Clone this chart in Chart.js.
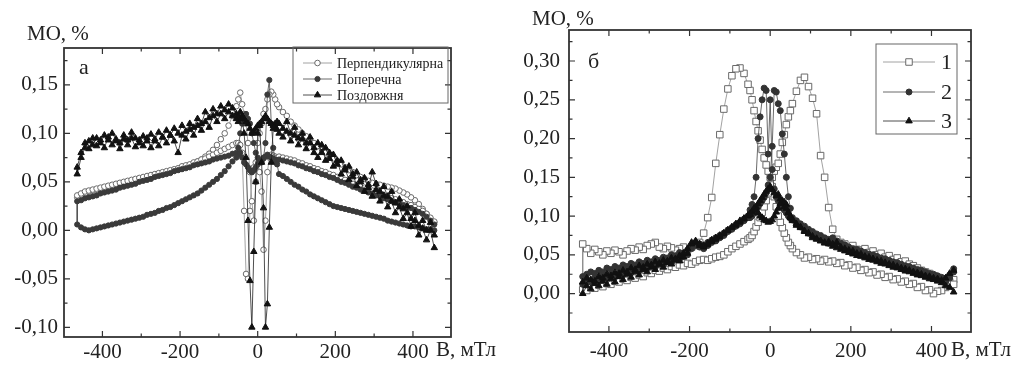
<!DOCTYPE html>
<html>
<head>
<meta charset="utf-8">
<script src="https://cdn.jsdelivr.net/npm/chart.js@4.4.1/dist/chart.umd.min.js"></script>
<style>
  body { margin: 0; background: #fff; width: 1027px; height: 372px; overflow: hidden; position: relative; }
  .panel { position: absolute; top: 0; height: 372px; }
  #panelA { left: 0; width: 520px; }
  #panelB { left: 505px; width: 522px; }
</style>
</head>
<body>
<div class="panel" id="panelA"><canvas id="chartA" width="520" height="372"></canvas></div>
<div class="panel" id="panelB"><canvas id="chartB" width="522" height="372"></canvas></div>
<script>
// field values, mT (shared by both panels)
const field = [
  -465, -455, -445, -435, -425, -415, -405, -395, -385, -375,
  -365, -355, -345, -335, -325, -315, -305, -295, -285, -275,
  -265, -255, -245, -235, -225, -215, -205, -195, -185, -175,
  -165, -155, -145, -135, -125, -115, -105, -95, -85, -75, -65, -55,
  -50, -45, -40, -35, -30, -25, -20, -15, -10, -5, 0, 5, 10, 15, 20, 25, 30, 35, 40, 45, 50,
  55, 65, 75, 85, 95, 105, 115, 125, 135, 145,
  155, 165, 175, 185, 195, 205, 215, 225, 235, 245,
  255, 265, 275, 285, 295, 305, 315, 325, 335, 345,
  355, 365, 375, 385, 395, 405, 415, 425, 435, 445, 455
];

// panel а, MO in %
const perpUp = [
  0.036, 0.038, 0.040, 0.041, 0.042, 0.043, 0.044, 0.045, 0.046, 0.047,
  0.048, 0.049, 0.050, 0.051, 0.052, 0.053, 0.054, 0.055, 0.056, 0.057,
  0.058, 0.059, 0.060, 0.061, 0.062, 0.063, 0.064, 0.066, 0.067, 0.068,
  0.070, 0.071, 0.073, 0.074, 0.076, 0.078, 0.080, 0.082, 0.084, 0.086, 0.088, 0.090,
  0.090, 0.088, 0.080, 0.020, -0.045, -0.050, 0.020, 0.060, 0.065, 0.070, 0.072, 0.060, 0.040, -0.020, 0.010, 0.060, 0.075, 0.078, 0.077, 0.076, 0.075,
  0.076, 0.075, 0.074, 0.073, 0.072, 0.070, 0.069, 0.067, 0.066, 0.064,
  0.063, 0.061, 0.060, 0.058, 0.057, 0.055, 0.053, 0.052, 0.050, 0.048,
  0.047, 0.045, 0.044, 0.042, 0.041, 0.039, 0.038, 0.036, 0.035, 0.033,
  0.032, 0.030, 0.029, 0.027, 0.026, 0.024, 0.022, 0.020, 0.017, 0.013, 0.009
];
const perpDown = [
  0.034, 0.036, 0.038, 0.040, 0.041, 0.042, 0.043, 0.044, 0.045, 0.046,
  0.047, 0.048, 0.049, 0.050, 0.051, 0.052, 0.053, 0.054, 0.055, 0.056,
  0.057, 0.058, 0.059, 0.060, 0.061, 0.062, 0.063, 0.064, 0.066, 0.067,
  0.069, 0.071, 0.073, 0.076, 0.079, 0.083, 0.088, 0.094, 0.100, 0.108, 0.118, 0.128,
  0.135, 0.142, 0.130, 0.120, 0.110, 0.090, 0.060, 0.030, 0.010, 0.050, 0.090, 0.100, 0.110, 0.120, 0.125, 0.135, 0.140, 0.143, 0.140, 0.135, 0.130,
  0.127, 0.122, 0.118, 0.112, 0.108, 0.104, 0.100, 0.097, 0.094, 0.090,
  0.087, 0.084, 0.080, 0.077, 0.074, 0.071, 0.068, 0.065, 0.062, 0.060,
  0.057, 0.055, 0.053, 0.051, 0.049, 0.048, 0.047, 0.046, 0.045, 0.044,
  0.043, 0.041, 0.039, 0.037, 0.034, 0.031, 0.027, 0.022, 0.017, 0.012, 0.008
];
const popUp = [
  0.006, 0.003, 0.001, 0.000, 0.001, 0.002, 0.003, 0.004, 0.005, 0.006,
  0.007, 0.008, 0.009, 0.010, 0.011, 0.012, 0.013, 0.014, 0.016, 0.017,
  0.018, 0.020, 0.021, 0.023, 0.024, 0.026, 0.028, 0.030, 0.032, 0.034,
  0.036, 0.038, 0.041, 0.044, 0.047, 0.050, 0.053, 0.057, 0.061, 0.066, 0.071, 0.075,
  0.078, 0.080, 0.075, 0.070, 0.068, 0.065, 0.062, 0.060, 0.062, 0.065, 0.068, 0.070, 0.072, 0.074, 0.076, 0.078, 0.076, 0.075, 0.074, 0.073, 0.072,
  0.073, 0.072, 0.071, 0.070, 0.069, 0.067, 0.066, 0.064, 0.063, 0.061,
  0.060, 0.058, 0.057, 0.055, 0.054, 0.052, 0.050, 0.049, 0.047, 0.045,
  0.044, 0.042, 0.041, 0.039, 0.038, 0.036, 0.035, 0.033, 0.032, 0.030,
  0.029, 0.027, 0.026, 0.024, 0.023, 0.021, 0.019, 0.017, 0.014, 0.010, 0.006
];
const popDown = [
  0.030, 0.031, 0.033, 0.034, 0.035, 0.036, 0.038, 0.039, 0.040, 0.041,
  0.042, 0.044, 0.045, 0.046, 0.047, 0.048, 0.050, 0.051, 0.052, 0.053,
  0.055, 0.056, 0.057, 0.058, 0.059, 0.061, 0.062, 0.063, 0.064, 0.065,
  0.067, 0.068, 0.069, 0.070, 0.071, 0.073, 0.074, 0.075, 0.076, 0.077, 0.079, 0.080,
  0.085, 0.100, 0.110, 0.118, 0.120, 0.115, 0.110, 0.100, 0.090, 0.080, 0.075, 0.072, 0.070, 0.075, 0.090, 0.140, 0.155, 0.110, 0.085, 0.072, 0.068,
  0.058, 0.056, 0.053, 0.050, 0.047, 0.045, 0.042, 0.040, 0.037, 0.035,
  0.033, 0.031, 0.029, 0.027, 0.025, 0.024, 0.023, 0.022, 0.021, 0.020,
  0.019, 0.018, 0.017, 0.016, 0.015, 0.014, 0.013, 0.012, 0.010, 0.009,
  0.008, 0.007, 0.006, 0.005, 0.004, 0.004, 0.003, 0.002, 0.001, 0.001, 0.000
];
const longUp = [
  0.058, 0.075, 0.085, 0.092, 0.088, 0.095, 0.090, 0.098, 0.093, 0.100,
  0.094, 0.090, 0.098, 0.093, 0.101, 0.095, 0.090, 0.097, 0.092, 0.099,
  0.094, 0.101, 0.096, 0.103, 0.098, 0.105, 0.100, 0.108, 0.102, 0.110,
  0.106, 0.115, 0.110, 0.122, 0.116, 0.125, 0.120, 0.128, 0.124, 0.130, 0.126, 0.120,
  0.118, 0.122, 0.115, 0.100, 0.075, 0.010, -0.052, -0.100, -0.022, 0.050, 0.100, 0.108, 0.070, 0.023, -0.100, -0.076, 0.003, 0.070, 0.105, 0.110, 0.112,
  0.110, 0.105, 0.112, 0.100, 0.106, 0.095, 0.100, 0.090, 0.096, 0.085,
  0.090, 0.080, 0.085, 0.074, 0.078, 0.068, 0.072, 0.062, 0.066, 0.055,
  0.060, 0.050, 0.054, 0.044, 0.060, 0.048, 0.040, 0.045, 0.035, 0.040,
  0.028, 0.032, 0.022, 0.025, 0.012, 0.018, 0.005, 0.010, 0.000, 0.008, -0.005
];
const longDown = [
  0.065, 0.080, 0.090, 0.084, 0.095, 0.087, 0.093, 0.085, 0.096, 0.088,
  0.092, 0.084, 0.094, 0.088, 0.095, 0.086, 0.093, 0.087, 0.095, 0.085,
  0.092, 0.087, 0.096, 0.090, 0.098, 0.092, 0.080, 0.098, 0.094, 0.104,
  0.098, 0.108, 0.103, 0.112, 0.106, 0.118, 0.112, 0.120, 0.115, 0.122, 0.118, 0.115,
  0.112, 0.115, 0.118, 0.115, 0.112, 0.110, 0.105, 0.100, 0.102, 0.105, 0.108, 0.110, 0.112, 0.115, 0.118, 0.115, 0.112, 0.110, 0.108, 0.106, 0.104,
  0.100, 0.096, 0.102, 0.092, 0.098, 0.088, 0.094, 0.084, 0.090, 0.080,
  0.075, 0.088, 0.072, 0.080, 0.066, 0.072, 0.058, 0.064, 0.052, 0.058,
  0.046, 0.052, 0.040, 0.047, 0.035, 0.042, 0.030, 0.036, 0.024, 0.030,
  0.018, 0.024, 0.012, 0.018, 0.004, 0.010, -0.005, 0.002, -0.010, 0.000, -0.018
];

// panel б, MO in %
const s1Down = [
  0.064, 0.058, 0.052, 0.057, 0.054, 0.050, 0.055, 0.052, 0.056, 0.054,
  0.050, 0.055, 0.058, 0.056, 0.060, 0.057, 0.062, 0.064, 0.066, 0.060,
  0.058, 0.061, 0.059, 0.056, 0.058, 0.060, 0.057, 0.060, 0.062, 0.066,
  0.078, 0.098, 0.124, 0.168, 0.205, 0.238, 0.264, 0.281, 0.290, 0.291, 0.284, 0.270,
  0.262, 0.250, 0.236, 0.222, 0.210, 0.198, 0.186, 0.175, 0.166, 0.158, 0.150, 0.138, 0.125, 0.112, 0.100, 0.092, 0.085, 0.078, 0.072, 0.066, 0.062,
  0.058, 0.053, 0.050, 0.046, 0.047, 0.044, 0.045, 0.042, 0.044, 0.041,
  0.042, 0.039, 0.040, 0.036, 0.037, 0.033, 0.034, 0.030, 0.031, 0.027,
  0.028, 0.024, 0.025, 0.021, 0.022, 0.018, 0.019, 0.015, 0.016, 0.012,
  0.013, 0.008, 0.009, 0.004, 0.005, 0.000, 0.003, 0.004, 0.008, 0.011, 0.018
];
const s1Up = [
  0.005, 0.004, 0.008, 0.007, 0.011, 0.009, 0.013, 0.012, 0.016, 0.015,
  0.019, 0.017, 0.021, 0.020, 0.024, 0.022, 0.027, 0.026, 0.030, 0.029,
  0.033, 0.031, 0.035, 0.034, 0.037, 0.036, 0.039, 0.038, 0.041, 0.043,
  0.044, 0.043, 0.045, 0.047, 0.048, 0.050, 0.054, 0.058, 0.061, 0.064, 0.067, 0.070,
  0.072, 0.075, 0.080, 0.086, 0.092, 0.098, 0.105, 0.112, 0.120, 0.130, 0.140, 0.150, 0.158, 0.163, 0.168, 0.180, 0.195, 0.205, 0.218, 0.228, 0.236,
  0.245, 0.261, 0.275, 0.279, 0.267, 0.252, 0.232, 0.178, 0.150, 0.111,
  0.083, 0.070, 0.066, 0.064, 0.060, 0.062, 0.057, 0.056, 0.058, 0.053,
  0.055, 0.050, 0.052, 0.047, 0.049, 0.044, 0.046, 0.041, 0.042, 0.038,
  0.036, 0.033, 0.030, 0.028, 0.026, 0.023, 0.021, 0.019, 0.017, 0.015, 0.012
];
const s2Down = [
  0.012, 0.018, 0.015, 0.020, 0.017, 0.022, 0.020, 0.025, 0.022, 0.027,
  0.025, 0.030, 0.027, 0.032, 0.030, 0.035, 0.033, 0.037, 0.035, 0.040,
  0.038, 0.042, 0.040, 0.045, 0.044, 0.048, 0.050, 0.058, 0.062, 0.060,
  0.058, 0.062, 0.066, 0.068, 0.072, 0.075, 0.080, 0.083, 0.087, 0.090, 0.094, 0.098,
  0.108, 0.115, 0.125, 0.150, 0.200, 0.228, 0.250, 0.265, 0.262, 0.180, 0.250, 0.160, 0.135, 0.125, 0.120, 0.115, 0.112, 0.108, 0.104, 0.100, 0.097,
  0.095, 0.090, 0.086, 0.082, 0.078, 0.075, 0.072, 0.070, 0.067, 0.065,
  0.066, 0.062, 0.060, 0.057, 0.055, 0.053, 0.051, 0.050, 0.048, 0.046,
  0.045, 0.043, 0.041, 0.040, 0.038, 0.036, 0.035, 0.033, 0.031, 0.030,
  0.028, 0.026, 0.025, 0.023, 0.021, 0.020, 0.018, 0.016, 0.015, 0.020, 0.028
];
const s2Up = [
  0.022, 0.025, 0.028, 0.026, 0.030, 0.028, 0.033, 0.031, 0.035, 0.033,
  0.037, 0.035, 0.039, 0.037, 0.041, 0.039, 0.043, 0.041, 0.045, 0.043,
  0.047, 0.046, 0.050, 0.049, 0.053, 0.052, 0.056, 0.062, 0.066, 0.064,
  0.062, 0.066, 0.069, 0.072, 0.075, 0.078, 0.082, 0.085, 0.089, 0.092, 0.096, 0.100,
  0.098, 0.100, 0.104, 0.108, 0.112, 0.116, 0.120, 0.124, 0.130, 0.140, 0.150, 0.190, 0.262, 0.260, 0.245, 0.236, 0.206, 0.180, 0.150, 0.125, 0.110,
  0.098, 0.094, 0.090, 0.087, 0.083, 0.080, 0.077, 0.075, 0.072, 0.070,
  0.072, 0.068, 0.065, 0.063, 0.060, 0.058, 0.057, 0.055, 0.053, 0.051,
  0.050, 0.048, 0.046, 0.045, 0.043, 0.041, 0.040, 0.038, 0.036, 0.035,
  0.033, 0.031, 0.030, 0.028, 0.026, 0.025, 0.023, 0.021, 0.020, 0.024, 0.032
];
const s3Down = [
  0.000, 0.010, 0.006, 0.013, 0.010, 0.016, 0.012, 0.019, 0.015, 0.022,
  0.018, 0.025, 0.021, 0.028, 0.024, 0.031, 0.028, 0.034, 0.031, 0.037,
  0.034, 0.040, 0.038, 0.043, 0.042, 0.047, 0.052, 0.064, 0.066, 0.062,
  0.060, 0.063, 0.067, 0.070, 0.073, 0.077, 0.081, 0.085, 0.088, 0.092, 0.096, 0.100,
  0.102, 0.105, 0.108, 0.112, 0.116, 0.120, 0.124, 0.128, 0.132, 0.135, 0.138, 0.134, 0.130, 0.126, 0.128, 0.122, 0.118, 0.112, 0.115, 0.105, 0.100,
  0.096, 0.090, 0.085, 0.081, 0.077, 0.074, 0.071, 0.068, 0.066, 0.064,
  0.061, 0.059, 0.057, 0.055, 0.053, 0.051, 0.049, 0.048, 0.046, 0.044,
  0.043, 0.041, 0.039, 0.038, 0.036, 0.034, 0.033, 0.031, 0.029, 0.028,
  0.026, 0.024, 0.023, 0.021, 0.019, 0.018, 0.016, 0.014, 0.010, 0.008, 0.002
];
const s3Up = [
  0.015, 0.020, 0.018, 0.016, 0.022, 0.020, 0.025, 0.023, 0.027, 0.026,
  0.030, 0.028, 0.033, 0.031, 0.036, 0.034, 0.038, 0.037, 0.041, 0.039,
  0.043, 0.042, 0.046, 0.045, 0.049, 0.052, 0.058, 0.066, 0.068, 0.064,
  0.062, 0.065, 0.069, 0.072, 0.075, 0.078, 0.082, 0.086, 0.090, 0.094, 0.097, 0.101,
  0.103, 0.106, 0.110, 0.108, 0.104, 0.100, 0.098, 0.095, 0.094, 0.092, 0.093, 0.095, 0.100, 0.105, 0.110, 0.116, 0.120, 0.118, 0.110, 0.104, 0.098,
  0.094, 0.088, 0.086, 0.080, 0.078, 0.072, 0.070, 0.068, 0.065, 0.067,
  0.064, 0.066, 0.060, 0.058, 0.056, 0.055, 0.052, 0.051, 0.048, 0.047,
  0.045, 0.043, 0.042, 0.040, 0.038, 0.037, 0.035, 0.033, 0.032, 0.030,
  0.028, 0.027, 0.025, 0.023, 0.022, 0.020, 0.019, 0.017, 0.020, 0.026, 0.030
];

const namesA = ['Перпендикулярна', 'Поперечна', 'Поздовжня'];
const namesB = ['1', '2', '3'];
const xTicks = [-400, -200, 0, 200, 400];
const yTicksA = [-0.10, -0.05, 0.00, 0.05, 0.10, 0.15];
const yTicksB = [0.00, 0.05, 0.10, 0.15, 0.20, 0.25, 0.30];
const yTitle = 'МО, %';
const xTitle = 'B, мТл';

// sweep down from the top field, then back up
function sweep(down, up) {
  const pts = [];
  for (let i = field.length - 1; i >= 0; i--) pts.push({ x: field[i], y: down[i] });
  for (let i = 0; i < field.length; i++) pts.push({ x: field[i], y: up[i] });
  return pts;
}

function series(label, data, style, r, line, edge, fill, order) {
  return {
    label, data, order,
    showLine: true,
    borderColor: line,
    borderWidth: 0.8,
    pointStyle: style,
    pointRadius: r,
    pointBorderWidth: 1,
    pointBorderColor: edge,
    pointBackgroundColor: fill
  };
}

const serif = '"Liberation Serif", "Times New Roman", serif';

const decor = {
  id: 'decor',
  afterDraw(chart, args, o) {
    const { ctx, chartArea: a, scales } = chart;
    ctx.save();
    // frame
    ctx.strokeStyle = '#333';
    ctx.lineWidth = 1.8;
    ctx.strokeRect(a.left, a.top, a.right - a.left, a.bottom - a.top);

    // inward ticks on all four sides
    ctx.lineWidth = 1.2;
    const marks = (scale) => {
      const majors = scale.ticks.map(t => t.value);
      const half = (majors[1] - majors[0]) / 2;
      const minors = [majors[0] - half].concat(majors.map(v => v + half))
        .filter(v => v > scale.min && v < scale.max);
      return majors.map(v => [scale.getPixelForValue(v), 6])
        .concat(minors.map(v => [scale.getPixelForValue(v), 3.5]));
    };
    ctx.beginPath();
    marks(scales.x).forEach(([p, len]) => {
      ctx.moveTo(p, a.bottom); ctx.lineTo(p, a.bottom - len);
      ctx.moveTo(p, a.top); ctx.lineTo(p, a.top + len);
    });
    marks(scales.y).forEach(([p, len]) => {
      ctx.moveTo(a.left, p); ctx.lineTo(a.left + len, p);
      ctx.moveTo(a.right, p); ctx.lineTo(a.right - len, p);
    });
    ctx.stroke();

    // titles and panel letter
    ctx.fillStyle = '#222';
    ctx.textBaseline = 'middle';
    ctx.textAlign = 'left';
    ctx.font = '21px ' + serif;
    ctx.fillText(yTitle, o.yTitle[0], o.yTitle[1]);
    ctx.fillText(xTitle, o.xTitle[0], o.xTitle[1]);
    ctx.font = '22px ' + serif;
    ctx.fillText(o.letter, o.letterAt[0], o.letterAt[1]);

    // legend box
    const L = o.legend;
    ctx.strokeStyle = '#666';
    ctx.lineWidth = 1;
    ctx.strokeRect(L.x, L.y, L.w, L.h);
    ctx.font = L.size + 'px ' + serif;
    L.names.forEach((name, i) => {
      const ds = chart.data.datasets.find(d => d.label === name);
      const y = L.rows[i];
      ctx.strokeStyle = ds.borderColor;
      ctx.lineWidth = 0.8;
      ctx.beginPath();
      ctx.moveTo(L.line[0], y); ctx.lineTo(L.line[1], y);
      ctx.stroke();
      ctx.fillStyle = ds.pointBackgroundColor;
      ctx.strokeStyle = ds.pointBorderColor;
      ctx.lineWidth = 1;
      Chart.helpers.drawPoint(ctx, { pointStyle: ds.pointStyle, radius: ds.pointRadius, borderWidth: 1, rotation: 0 },
        (L.line[0] + L.line[1]) / 2, y);
      ctx.fillStyle = '#222';
      ctx.fillText(name, L.textX, y + 1);
    });
    ctx.restore();
  }
};
Chart.register(decor);

function options(c) {
  const tickFont = { family: serif, size: 21 };
  return {
    responsive: false,
    animation: false,
    layout: { padding: c.pad },
    plugins: { legend: { display: false }, tooltip: { enabled: false }, decor: c.decor },
    scales: {
      x: {
        type: 'linear', min: -499, max: 498,
        grid: { display: false, drawTicks: false }, border: { display: false },
        ticks: { autoSkip: false, maxRotation: 0, padding: c.xPad, color: '#222', font: tickFont },
        afterBuildTicks: s => { s.ticks = xTicks.map(v => ({ value: v })); },
        afterFit: s => { s.height = c.xHeight; }
      },
      y: {
        type: 'linear', min: c.yMin, max: c.yMax,
        grid: { display: false, drawTicks: false }, border: { display: false },
        ticks: {
          padding: c.yPad, color: '#222', font: tickFont,
          callback: v => v.toFixed(2).replace('.', ',')
        },
        afterBuildTicks: s => { s.ticks = c.yTicks.map(v => ({ value: v })); },
        afterFit: s => { s.width = c.yWidth; }
      }
    }
  };
}

new Chart(document.getElementById('chartA'), {
  type: 'scatter',
  data: {
    datasets: [
      series(namesA[0], sweep(perpDown, perpUp), 'circle', 2.8, '#8a8a8a', '#6a6a6a', '#ffffff', 2),
      series(namesA[1], sweep(popDown, popUp), 'circle', 2.6, '#444', '#3a3a3a', '#3a3a3a', 1),
      series(namesA[2], sweep(longDown, longUp), 'triangle', 3.7, '#222', '#111', '#111', 0)
    ]
  },
  options: options({
    yMin: -0.110, yMax: 0.188, yTicks: yTicksA, yWidth: 64, xHeight: 35, xPad: 3, yPad: 6,
    pad: { top: 48, right: 69, left: 0, bottom: 0 },
    decor: {
      yTitle: [27, 34], xTitle: [436, 350], letter: 'а', letterAt: [79, 68],
      legend: { x: 293, y: 47, w: 155, h: 56, rows: [63, 79, 95], line: [303, 332], textX: 337, size: 14, names: namesA }
    }
  })
});

new Chart(document.getElementById('chartB'), {
  type: 'scatter',
  data: {
    datasets: [
      series(namesB[0], sweep(s1Down, s1Up), 'rect', 4.6, '#8a8a8a', '#6a6a6a', '#ffffff', 2),
      series(namesB[1], sweep(s2Down, s2Up), 'circle', 3, '#444', '#333', '#333', 1),
      series(namesB[2], sweep(s3Down, s3Up), 'triangle', 3.8, '#222', '#111', '#111', 0)
    ]
  },
  options: options({
    yMin: -0.0495, yMax: 0.34, yTicks: yTicksB, yWidth: 64, xHeight: 40, xPad: 7, yPad: 9,
    pad: { top: 30, right: 56, left: 0, bottom: 0 },
    decor: {
      yTitle: [27, 19], xTitle: [446, 350], letter: 'б', letterAt: [83, 62],
      legend: { x: 371, y: 44, w: 81, h: 90, rows: [62, 92, 121], line: [378, 430], textX: 436, size: 22, names: namesB }
    }
  })
});
</script>
</body>
</html>
